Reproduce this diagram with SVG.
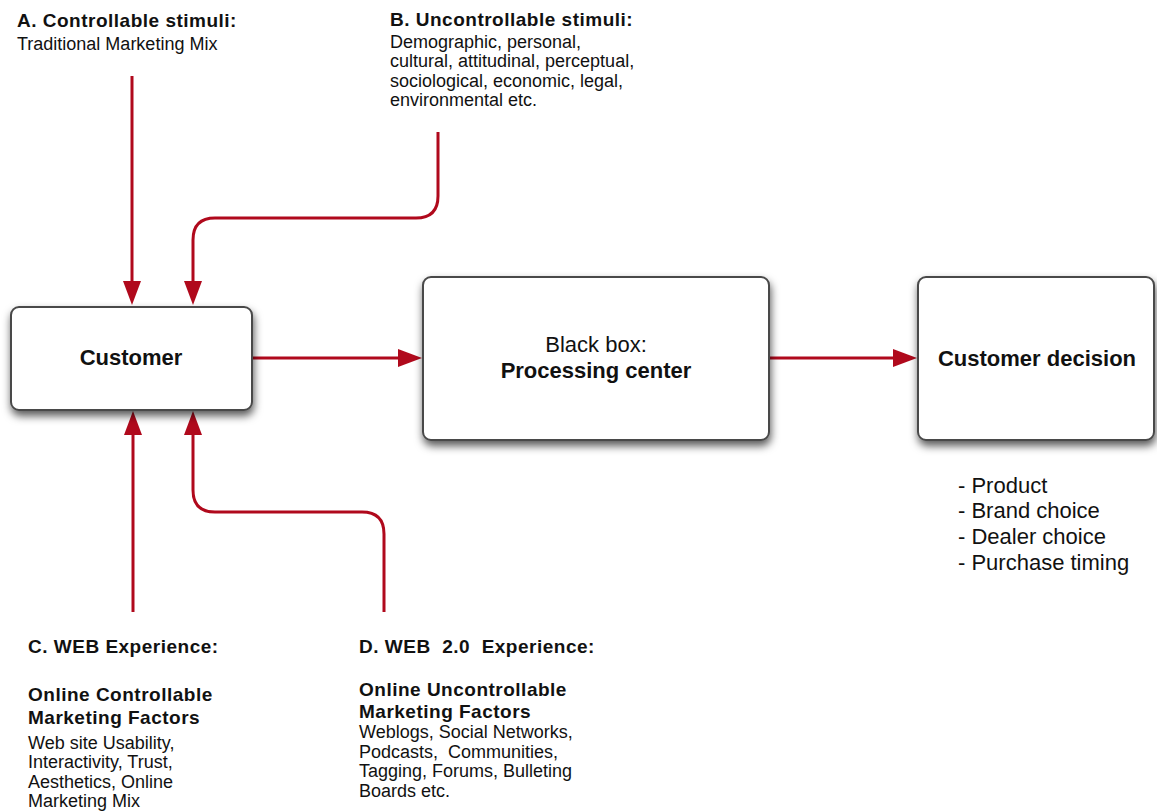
<svg xmlns="http://www.w3.org/2000/svg" width="1157" height="812" viewBox="0 0 1157 812">
  <defs>
    <filter id="boxShadow" x="-10%" y="-10%" width="120%" height="135%">
      <feDropShadow dx="1" dy="5" stdDeviation="4" flood-color="#000" flood-opacity="0.65"/>
    </filter>
    <marker id="arrowHead" markerUnits="userSpaceOnUse" markerWidth="24" markerHeight="18" viewBox="0 0 24 18" refX="12" refY="9" orient="auto">
      <path d="M0,0 L24,9 L0,18 Z" fill="#b0091c"/>
    </marker>
  </defs>
  <style>
    text { font-family: "Liberation Sans", Arial, Helvetica, sans-serif; fill: #111; }
    .head { font-size: 19px; font-weight: bold; letter-spacing: 0.5px; }
    .body { font-size: 18px; }
    .node-label { font-size: 22px; text-anchor: middle; }
    .bold { font-weight: bold; }
    .list { font-size: 22px; }
    .box { fill: #fff; stroke: #4a4a4a; stroke-width: 2; filter: url(#boxShadow); }
    .link { fill: none; stroke: #b0091c; stroke-width: 3; marker-end: url(#arrowHead); }
  </style>

  <rect width="1157" height="812" fill="#fff"/>

  <!-- connectors -->
  <g id="connectors">
    <path class="link" d="M132,76 V293"/>
    <path class="link" d="M438,132 V196 Q438,218 416,218 H215 Q193,218 193,240 V293"/>
    <path class="link" d="M133,612 V423"/>
    <path class="link" d="M384,612 V534 Q384,512 362,512 H215 Q193,512 193,490 V423"/>
    <path class="link" d="M253,358 H410"/>
    <path class="link" d="M769,358 H905"/>
  </g>

  <!-- nodes -->
  <g id="customer">
    <rect class="box" x="11" y="307" width="241" height="103" rx="8"/>
    <text class="node-label bold" x="131" y="365">Customer</text>
  </g>

  <g id="processing-center">
    <rect class="box" x="423" y="277" width="346" height="163" rx="8"/>
    <text class="node-label" x="596" y="352">Black box:</text>
    <text class="node-label bold" x="596" y="378">Processing center</text>
  </g>

  <g id="customer-decision">
    <rect class="box" x="918" y="277" width="236" height="163" rx="8"/>
    <text class="node-label bold" x="1037" y="366">Customer decision</text>
  </g>

  <g id="decision-options">
    <text class="list" x="958" y="493">- Product</text>
    <text class="list" x="958" y="518">- Brand choice</text>
    <text class="list" x="958" y="544">- Dealer choice</text>
    <text class="list" x="958" y="570">- Purchase timing</text>
  </g>

  <g id="controllable-stimuli">
    <text class="head" x="17" y="27">A. Controllable stimuli:</text>
    <text class="body" x="17" y="50">Traditional Marketing Mix</text>
  </g>

  <g id="uncontrollable-stimuli">
    <text class="head" x="390" y="26">B. Uncontrollable stimuli:</text>
    <text class="body" x="390" y="48">Demographic, personal,</text>
    <text class="body" x="390" y="67">cultural, attitudinal, perceptual,</text>
    <text class="body" x="390" y="87">sociological, economic, legal,</text>
    <text class="body" x="390" y="106">environmental etc.</text>
  </g>

  <g id="web-experience">
    <text class="head" x="28" y="653">C. WEB Experience:</text>
    <text class="head" x="28" y="701">Online Controllable</text>
    <text class="head" x="28" y="724">Marketing Factors</text>
    <text class="body" x="28" y="749">Web site Usability,</text>
    <text class="body" x="28" y="768">Interactivity, Trust,</text>
    <text class="body" x="28" y="788">Aesthetics, Online</text>
    <text class="body" x="28" y="807">Marketing Mix</text>
  </g>

  <g id="web2-experience">
    <text class="head" x="359" y="653" xml:space="preserve">D. WEB  2.0  Experience:</text>
    <text class="head" x="359" y="696">Online Uncontrollable</text>
    <text class="head" x="359" y="718">Marketing Factors</text>
    <text class="body" x="359" y="738">Weblogs, Social Networks,</text>
    <text class="body" x="359" y="758" xml:space="preserve">Podcasts,  Communities,</text>
    <text class="body" x="359" y="777">Tagging, Forums, Bulleting</text>
    <text class="body" x="359" y="797">Boards etc.</text>
  </g>
</svg>
